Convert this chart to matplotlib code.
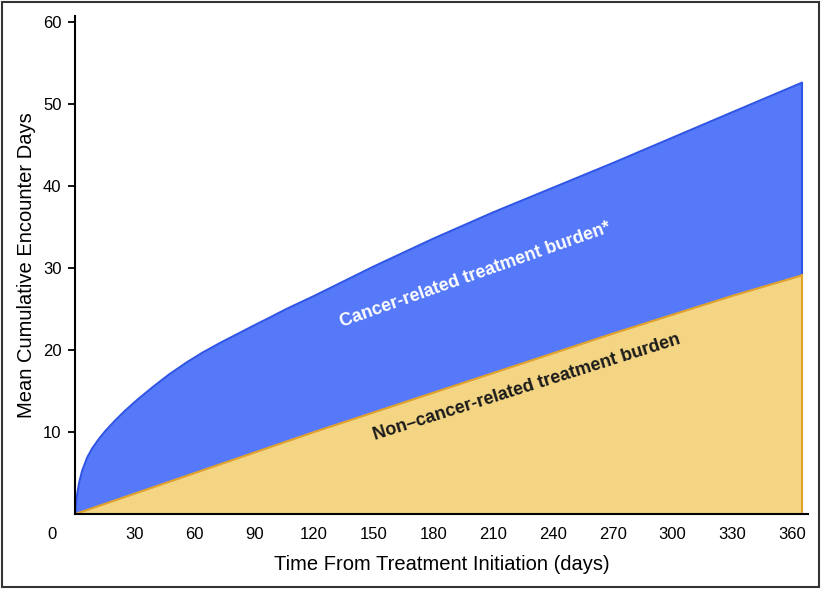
"""
Mean cumulative encounter days after treatment initiation,
split into cancer-related and non-cancer-related burden.
Saves out.png
"""

import matplotlib
matplotlib.use("Agg")
import matplotlib.pyplot as plt
import matplotlib.transforms as mtransforms
from matplotlib.patches import Rectangle

# ── data ────────────────────────────────────────────────────────────────────
days = [0, 0.5, 1, 2, 3.5, 6, 8.5, 12, 15, 20, 25, 31, 39, 47, 56, 64, 73,
        81, 89, 98, 106, 113, 120, 135, 150, 165, 180, 210, 240, 270, 300,
        330, 365]
total_burden = [0.0, 1.5, 2.5, 3.9, 5.3, 6.9, 8.0, 9.2, 10.1, 11.4, 12.6,
                13.9, 15.5, 17.0, 18.5, 19.7, 20.9, 21.9, 22.9, 24.0, 25.0,
                25.8, 26.6, 28.4, 30.2, 31.9, 33.6, 36.8, 39.8, 42.8, 45.9,
                49.0, 52.6]
non_cancer_days = [0, 30, 60, 90, 120, 150, 180, 210, 240, 270, 300, 330, 365]
non_cancer_burden = [0.0, 2.5, 5.0, 7.5, 10.0, 12.4, 14.8, 17.2, 19.6,
                     22.0, 24.3, 26.6, 29.1]

x_ticks = [0, 30, 60, 90, 120, 150, 180, 210, 240, 270, 300, 330, 360]
y_ticks = [10, 20, 30, 40, 50, 60]

cancer_label = "Cancer-related treatment burden*"
non_cancer_label = "Non\u2013cancer-related treatment burden"
x_title = "Time From Treatment Initiation (days)"
y_title = "Mean Cumulative Encounter Days"
# ────────────────────────────────────────────────────────────────────────────

BLUE_FILL = "#5579F8"
BLUE_EDGE = "#2F55E6"
GOLD_FILL = "#F4D584"
GOLD_EDGE = "#E3A22A"

plt.rcParams["font.family"] = ["Liberation Sans", "DejaVu Sans"]

fig = plt.figure(figsize=(8.21, 5.89), dpi=100)
ax = fig.add_axes([0.0917, 0.1273, 0.8920, 0.8455])

# cancer-related area on top (drawn down to zero, gold covers the lower part)
ax.fill_between(days, 0, total_burden, color=BLUE_FILL, lw=0, zorder=1)
ax.plot(days, total_burden, color=BLUE_EDGE, lw=1.5, zorder=2)
ax.plot([days[-1], days[-1]], [non_cancer_burden[-1], total_burden[-1]],
        color=BLUE_EDGE, lw=1.5, zorder=2)

ax.fill_between(non_cancer_days, 0, non_cancer_burden, color=GOLD_FILL, lw=0, zorder=3)
ax.plot(non_cancer_days, non_cancer_burden, color=GOLD_EDGE, lw=1.5, zorder=4)
ax.plot([non_cancer_days[-1], non_cancer_days[-1]], [0, non_cancer_burden[-1]],
        color=GOLD_EDGE, lw=1.5, zorder=4)

ax.set_xlim(0, 368)
ax.set_ylim(0, 60.75)

for side in ("top", "right"):
    ax.spines[side].set_visible(False)
for side in ("left", "bottom"):
    ax.spines[side].set_linewidth(1.5)
    ax.spines[side].set_zorder(6)

ax.set_xticks(x_ticks)
ax.set_xticklabels([str(t) for t in x_ticks])
ax.set_yticks(y_ticks)
ax.set_yticklabels([str(t) for t in y_ticks])
ax.tick_params(axis="x", length=0, pad=9, labelsize=12)
ax.tick_params(axis="y", length=5, width=1.3, pad=5, labelsize=12, direction="out")

# the "0" label sits left of the y axis
zero_lbl = ax.get_xticklabels()[0]
zero_lbl.set_transform(zero_lbl.get_transform() +
                       mtransforms.ScaledTranslation(-17 / 72, 0, fig.dpi_scale_trans))

ax.set_xlabel(x_title, fontsize=14.5, labelpad=10)
ax.set_ylabel(y_title, fontsize=14.5, labelpad=5)

ax.text(201, 29.2, cancer_label, color="white", fontsize=13, fontweight="bold",
        rotation=19.5, rotation_mode="anchor", ha="center", va="center", zorder=5)
ax.text(227, 15.4, non_cancer_label, color="#1a1a1a", fontsize=13, fontweight="bold",
        rotation=17.5, rotation_mode="anchor", ha="center", va="center", zorder=5)

# thin frame around the whole figure
fig.patches.append(Rectangle((0.003, 0.004), 0.994, 0.992, transform=fig.transFigure,
                             fill=False, edgecolor="#333333", lw=1.5))

fig.savefig("out.png", dpi=100)
plt.close(fig)
